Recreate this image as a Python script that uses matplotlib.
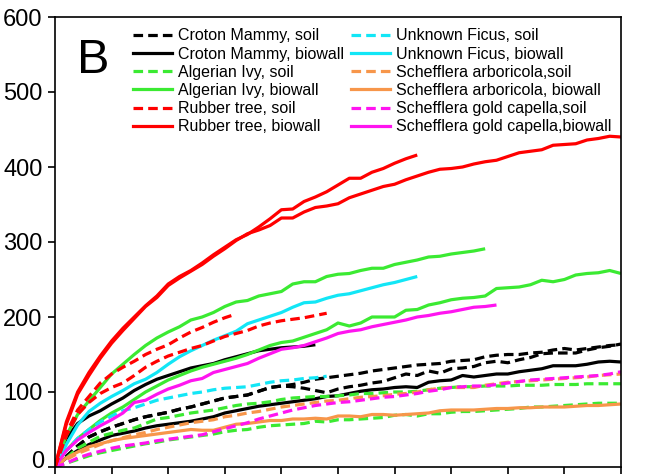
import numpy as np
import matplotlib
matplotlib.use("Agg")
import matplotlib.pyplot as plt
from matplotlib.lines import Line2D

plt.rcParams['font.family'] = ['Liberation Sans', 'DejaVu Sans']

# Cumulative readings, one value per sampling day (day 0 onward), two runs per plant/medium
croton_soil_1 = [0, 14, 28, 40, 47, 53, 58, 63, 67, 70, 73, 77, 80, 84, 88, 92, 94, 96, 101, 106, 108, 110,
                 113, 117, 119, 121, 123, 125, 128, 130, 132, 134, 136, 137, 138, 141, 142, 143, 147, 149,
                 150, 150, 152, 153, 156, 158, 156, 158, 160, 162, 163]
croton_soil_2 = [0, 14, 28, 40, 47, 53, 58, 63, 67, 70, 73, 77, 80, 84, 88, 92, 94, 96, 101, 106, 108, 107,
                 105, 102, 99, 104, 107, 109, 112, 114, 119, 124, 122, 128, 125, 131, 132, 134, 139, 141,
                 139, 143, 146, 151, 152, 152, 152, 156, 159, 161, 164]
croton_biowall_1 = [0, 38, 58, 68, 75, 84, 92, 102, 110, 117, 122, 127, 132, 135, 138, 143, 147, 151, 155,
                    157, 159, 160, 161, 163]
croton_biowall_2 = [0, 12, 22, 30, 36, 42, 45, 48, 52, 55, 57, 59, 61, 64, 67, 72, 75, 78, 81, 83, 85, 87,
                    89, 91, 94, 95, 98, 101, 103, 104, 106, 107, 106, 113, 115, 116, 122, 120, 122, 124,
                    124, 127, 129, 131, 135, 135, 135, 137, 140, 141, 140]

ivy_soil_1 = [0, 12, 25, 33, 41, 45, 49, 52, 58, 64, 66, 69, 72, 74, 76, 79, 82, 84, 85, 87, 90, 92, 93,
              94, 94, 95, 96, 98, 98, 99, 100, 100, 101, 103, 105, 106, 107, 107, 108, 108, 108, 109, 109,
              109, 110, 110, 110, 111, 111, 111, 111]
ivy_soil_2 = [0, 5, 10, 15, 19, 22, 25, 28, 31, 33, 36, 38, 40, 42, 44, 47, 49, 50, 53, 55, 56, 57, 58,
              61, 60, 63, 63, 64, 65, 66, 69, 70, 68, 71, 71, 73, 74, 74, 75, 76, 77, 78, 80, 80, 81, 82,
              83, 84, 85, 85, 85]
ivy_biowall_1 = [0, 42, 70, 88, 106, 124, 137, 150, 162, 172, 180, 187, 196, 200, 206, 214, 220, 222, 228,
                 231, 234, 244, 247, 247, 254, 257, 258, 262, 265, 265, 270, 273, 276, 280, 281, 284, 286,
                 288, 291]
ivy_biowall_2 = [0, 22, 38, 50, 62, 72, 80, 90, 100, 108, 116, 122, 128, 133, 137, 141, 145, 150, 156, 162,
                 166, 168, 173, 178, 183, 192, 188, 192, 200, 200, 200, 209, 210, 216, 219, 223, 225, 226,
                 228, 238, 239, 240, 243, 249, 247, 250, 256, 258, 259, 262, 258]

rubber_soil_1 = [0, 45, 76, 94, 112, 124, 133, 141, 150, 157, 163, 172, 180, 186, 193, 199, 204]
rubber_soil_2 = [0, 42, 70, 86, 98, 106, 112, 122, 133, 141, 148, 153, 158, 162, 168, 174, 178, 182, 188,
                 192, 195, 197, 199, 202, 205]
rubber_biowall_1 = [0, 60, 100, 126, 148, 168, 185, 200, 215, 228, 244, 254, 262, 272, 283, 293, 303, 310,
                    320, 331, 343, 344, 354, 360, 367, 376, 385, 385, 393, 398, 405, 411, 416]
rubber_biowall_2 = [0, 57, 97, 122, 145, 165, 182, 198, 214, 226, 242, 252, 261, 270, 281, 291, 302, 311,
                    316, 322, 332, 332, 340, 346, 348, 351, 359, 364, 369, 374, 377, 383, 388, 393, 397, 398,
                    400, 404, 407, 409, 414, 419, 421, 423, 429, 430, 431, 436, 438, 441, 440]

ficus_soil_1 = [0, 22, 38, 50, 60, 68, 75, 79, 84, 89, 92, 95, 98, 100, 103, 105, 106, 107, 110, 113, 115,
                116, 118, 119, 121]
ficus_biowall_1 = [0, 30, 56, 74, 85, 94, 102, 111, 117, 126, 137, 147, 155, 162, 169, 175, 181, 191, 196,
                   201, 206, 213, 219, 220, 225, 229, 231, 235, 239, 243, 246, 250, 254]

arboricola_soil_1 = [0, 10, 18, 24, 30, 35, 39, 43, 46, 50, 53, 56, 59, 61, 63, 67, 69, 72, 74, 77, 80, 82,
                     84, 86, 88, 89, 91, 93, 94, 95, 97, 98, 100, 103, 105, 106, 106, 106, 109, 111, 113,
                     114, 115, 116, 117, 118, 119, 120, 122, 123, 124]
arboricola_biowall_1 = [0, 12, 20, 27, 31, 35, 38, 40, 42, 44, 46, 48, 50, 49, 49, 53, 57, 58, 60, 62, 62,
                        64, 64, 65, 64, 68, 68, 67, 70, 70, 69, 70, 71, 72, 75, 76, 76, 76, 77, 78, 78, 79,
                        79, 80, 80, 80, 81, 82, 82, 83, 84]

capella_soil_1 = [0, 5, 12, 17, 21, 25, 28, 30, 32, 35, 37, 39, 41, 43, 47, 51, 55, 59, 64, 68, 72, 76, 79,
                  82, 84, 86, 87, 89, 91, 93, 94, 96, 98, 101, 103, 106, 107, 108, 108, 110, 112, 114, 116,
                  117, 118, 119, 120, 121, 122, 124, 127]
capella_biowall_1 = [0, 22, 36, 46, 55, 63, 72, 86, 89, 97, 104, 109, 115, 118, 126, 130, 134, 138, 145,
                     151, 157, 159, 162, 167, 172, 178, 181, 183, 187, 190, 193, 196, 200, 202, 205, 207,
                     210, 213, 214, 216]

y_ticks = [0, 100, 200, 300, 400, 500, 600]

labels = ["Croton Mammy, soil", "Croton Mammy, biowall",
          "Algerian Ivy, soil", "Algerian Ivy, biowall",
          "Rubber tree, soil", "Rubber tree, biowall",
          "Unknown Ficus, soil", "Unknown Ficus, biowall",
          "Schefflera arboricola,soil", "Schefflera arboricola, biowall",
          "Schefflera gold capella,soil", "Schefflera gold capella,biowall"]

BLACK, GREEN, RED = "#000000", "#3BEA32", "#FF0000"
CYAN, ORANGE, MAGENTA = "#12E6F6", "#F7964A", "#FF14F0"

# (legend label, colour, dashed?, runs)
groups = [
    (labels[0], BLACK, True, [croton_soil_1, croton_soil_2]),
    (labels[1], BLACK, False, [croton_biowall_1, croton_biowall_2]),
    (labels[2], GREEN, True, [ivy_soil_1, ivy_soil_2]),
    (labels[3], GREEN, False, [ivy_biowall_1, ivy_biowall_2]),
    (labels[4], RED, True, [rubber_soil_1, rubber_soil_2]),
    (labels[5], RED, False, [rubber_biowall_1, rubber_biowall_2]),
    (labels[6], CYAN, True, [ficus_soil_1]),
    (labels[7], CYAN, False, [ficus_biowall_1]),
    (labels[8], ORANGE, True, [arboricola_soil_1]),
    (labels[9], ORANGE, False, [arboricola_biowall_1]),
    (labels[10], MAGENTA, True, [capella_soil_1]),
    (labels[11], MAGENTA, False, [capella_biowall_1]),
]

# draw order: lower groups first, rubber tree on top
draw_order = [0, 1, 2, 3, 6, 7, 8, 9, 10, 11, 4, 5]

LW = 2.3
DASH = (3.0, 1.6)

fig = plt.figure(figsize=(6.58, 4.74), dpi=100)
ax = fig.add_axes([55 / 658, 7 / 474, 566 / 658, 450 / 474])

for gi in draw_order:
    label, color, dashed, runs = groups[gi]
    for run in runs:
        days = np.arange(len(run))
        line, = ax.plot(days, run, color=color, lw=LW, solid_capstyle='butt',
                        solid_joinstyle='round')
        if dashed:
            line.set_dashes(DASH)
            line.set_dash_capstyle('butt')

handles = []
for label, color, dashed, runs in groups:
    h = Line2D([], [], color=color, lw=LW)
    if dashed:
        h.set_dashes(DASH)
    handles.append(h)

ax.set_xlim(0, 50)
ax.set_ylim(0, 600)
ax.set_xticks(np.arange(0, 51, 5))
ax.set_xticklabels([])
ax.set_yticks(y_ticks)
# the zero label sits a little above its tick so it stays inside the figure
ax.set_yticklabels([""] + [str(v) for v in y_ticks[1:]])
ax.tick_params(axis='y', direction='out', length=5, width=1.2, labelsize=17, pad=4)
ax.tick_params(axis='x', direction='out', length=6, width=1.2)
for sp in ax.spines.values():
    sp.set_linewidth(1.2)
ax.annotate(str(y_ticks[0]), xy=(0, y_ticks[0]), xycoords=('axes fraction', 'data'),
            xytext=(-7.6, 3.6), textcoords='offset points', ha='right', va='center',
            fontsize=17, annotation_clip=False)

ax.text(0.039, 0.876, "B", transform=ax.transAxes, fontsize=35,
        ha='left', va='baseline')

ax.legend(handles, labels, ncol=2, loc='upper left',
          bbox_to_anchor=(0.138, 0.9747), frameon=False, fontsize=11.5,
          handlelength=2.45, handletextpad=0.38, columnspacing=0.4,
          labelspacing=0.2, borderpad=0, borderaxespad=0)

fig.savefig("out.png", dpi=100)
